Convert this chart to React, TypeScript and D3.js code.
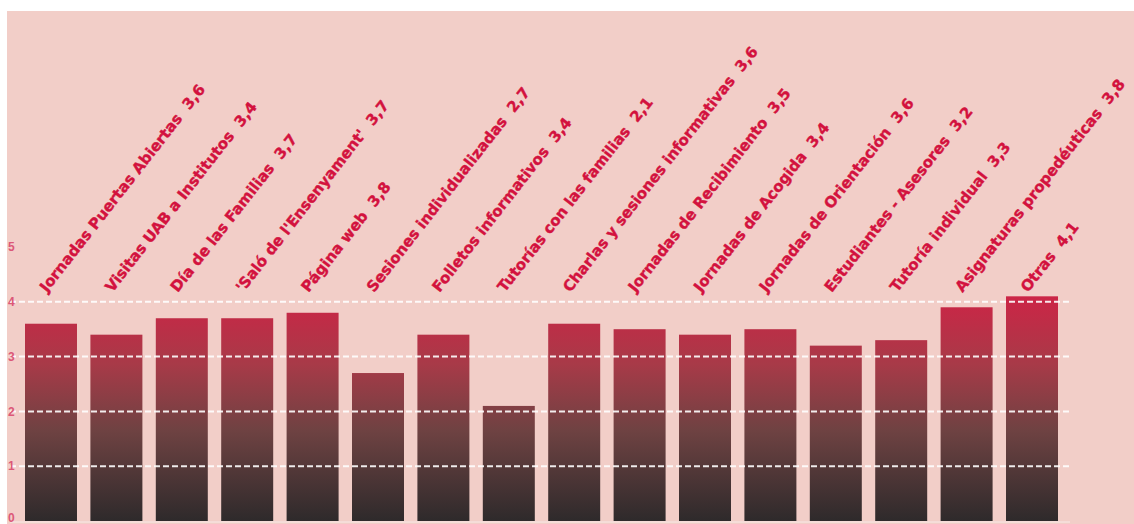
import React from "react";
import * as d3 from "d3";

const categories = [
  "Jornadas Puertas Abiertas",
  "Visitas UAB a Institutos",
  "Día de las Familias",
  "'Saló de l'Ensenyament'",
  "Página web",
  "Sesiones individualizadas",
  "Folletos informativos",
  "Tutorías con las familias",
  "Charlas y sesiones informativas",
  "Jornadas de Recibimiento",
  "Jornadas de Acogida",
  "Jornadas de Orientación",
  "Estudiantes - Asesores",
  "Tutoría individual",
  "Asignaturas propedéuticas",
  "Otras",
];
const values = [3.6, 3.4, 3.7, 3.7, 3.8, 2.7, 3.4, 2.1, 3.6, 3.5, 3.4, 3.5, 3.2, 3.3, 3.9, 4.1];
const labelValues = ["3,6", "3,4", "3,7", "3,7", "3,8", "2,7", "3,4", "2,1", "3,6", "3,5", "3,4", "3,6", "3,2", "3,3", "3,8", "4,1"];
const yTicks = [0, 1, 2, 3, 4, 5];
const gridValues = [1, 2, 3, 4];

const W = 1134;
const H = 524;

export default function App() {
  const y = d3.scaleLinear().domain([0, 5]).range([521, 247]);
  const x = d3
    .scaleBand<string>()
    .domain(categories)
    .range([25, 1058])
    .paddingInner(0.205)
    .paddingOuter(0);
  const bw = x.bandwidth();
  const labelColor = "#d3123e";

  return (
    <svg
      width={W}
      height={H}
      style={{ position: "absolute", left: 0, top: 0, display: "block" }}
    >
      <defs>
        <linearGradient
          id="barGrad"
          gradientUnits="userSpaceOnUse"
          x1={0}
          x2={0}
          y1={y(4.1)}
          y2={y(0)}
        >
          <stop offset="0%" stopColor="#cc2546" />
          <stop offset="30%" stopColor="#a83a48" />
          <stop offset="60%" stopColor="#6e4242" />
          <stop offset="100%" stopColor="#2e2a2b" />
        </linearGradient>
      </defs>
      <rect x={0} y={0} width={W} height={H} fill="#ffffff" />
      <rect x={7} y={11} width={W - 7} height={H - 11} fill="#f2cec8" />

      {/* bars */}
      {values.map((v, i) => (
        <rect
          key={categories[i]}
          x={x(categories[i])}
          y={y(v)}
          width={bw}
          height={y(0) - y(v)}
          fill="url(#barGrad)"
        />
      ))}

      {/* grid */}
      {gridValues.map((g) => (
        <line
          key={g}
          x1={10}
          x2={1070}
          y1={y(g)}
          y2={y(g)}
          stroke="#ffffff"
          strokeWidth={2}
          strokeDasharray="6 3"
          opacity={0.9}
        />
      ))}
      <line x1={10} x2={1070} y1={y(0) + 1} y2={y(0) + 1} stroke="#ffffff" strokeWidth={1} opacity={0.6} />

      {/* y tick labels */}
      {yTicks.map((t) => (
        <text
          key={t}
          x={8}
          y={t === 0 ? 522 : y(t)}
          dy={t === 0 ? 0 : "0.35em"}
          fontFamily="Liberation Sans, Arial, sans-serif"
          fontSize={12}
          fontWeight="bold"
          fill="#dc5878"
        >
          {t}
        </text>
      ))}

      {/* rotated labels */}
      {categories.map((c, i) => {
        const cx = (x(c) ?? 0) + bw / 2 - 4;
        const cy = 293;
        return (
          <text
            key={c}
            transform={`translate(${cx},${cy}) rotate(-52)`}
            fontFamily="DejaVu Sans, sans-serif"
            fontWeight="bold"
            fontSize={15}
            fill={labelColor}
            stroke={labelColor}
            strokeWidth={0.4}
            style={{ whiteSpace: "pre" }}
          >
            {`${c}  ${labelValues[i]}`}
          </text>
        );
      })}
    </svg>
  );
}
